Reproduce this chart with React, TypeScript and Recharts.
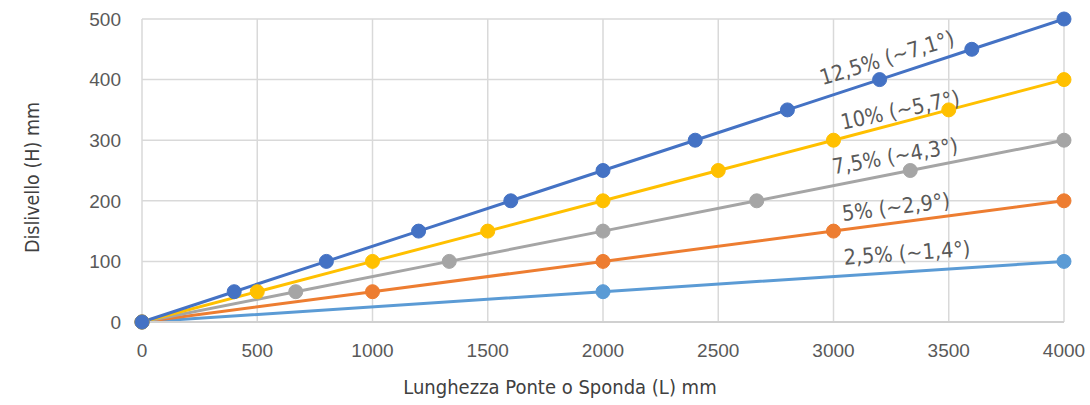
import React from 'react';
import { LineChart, Line, XAxis, YAxis, CartesianGrid, ReferenceDot, Label } from 'recharts';

// series: lunghezza (L) mm -> dislivello (H) mm
const s125 = [
  { x: 0, y: 0 }, { x: 400, y: 50 }, { x: 800, y: 100 }, { x: 1200, y: 150 },
  { x: 1600, y: 200 }, { x: 2000, y: 250 }, { x: 2400, y: 300 }, { x: 2800, y: 350 },
  { x: 3200, y: 400 }, { x: 3600, y: 450 }, { x: 4000, y: 500 },
];
const s10 = [
  { x: 0, y: 0 }, { x: 500, y: 50 }, { x: 1000, y: 100 }, { x: 1500, y: 150 },
  { x: 2000, y: 200 }, { x: 2500, y: 250 }, { x: 3000, y: 300 }, { x: 3500, y: 350 },
  { x: 4000, y: 400 },
];
const s75 = [
  { x: 0, y: 0 }, { x: 667, y: 50 }, { x: 1333, y: 100 }, { x: 2000, y: 150 },
  { x: 2667, y: 200 }, { x: 3333, y: 250 }, { x: 4000, y: 300 },
];
const s5 = [
  { x: 0, y: 0 }, { x: 1000, y: 50 }, { x: 2000, y: 100 }, { x: 3000, y: 150 }, { x: 4000, y: 200 },
];
const s25 = [
  { x: 0, y: 0 }, { x: 2000, y: 50 }, { x: 4000, y: 100 },
];

const xTicks = [0, 500, 1000, 1500, 2000, 2500, 3000, 3500, 4000];
const yTicks = [0, 100, 200, 300, 400, 500];

// labels placed along each line (data coords + tilt)
const notes = [
  { text: '12,5% (~7,1°)', x: 3232, y: 436, angle: 17 },
  { text: '10% (~5,7°)', x: 3289, y: 350, angle: 12 },
  { text: '7,5% (~4,3°)', x: 3267, y: 274, angle: 10 },
  { text: '5% (~2,9°)', x: 3271, y: 190, angle: 7 },
  { text: '2,5% (~1,4°)', x: 3319, y: 114, angle: 4 },
];

const narrow = "'Liberation Sans Narrow', 'DejaVu Sans Condensed', sans-serif";
const tickStyle = { fill: '#595959', fontSize: 19, fontFamily: "'Liberation Sans', Arial, sans-serif" };

const series = [
  { data: s25, color: '#5B9BD5' },
  { data: s5, color: '#ED7D31' },
  { data: s75, color: '#A5A5A5' },
  { data: s10, color: '#FFC000' },
  { data: s125, color: '#4472C4' },
];

export default function App() {
  return (
    <div style={{ position: 'absolute', left: 0, top: 0 }}>
      <LineChart width={1090} height={405} margin={{ top: 19, right: 26, left: 0, bottom: 0 }}>
        <CartesianGrid stroke="#d9d9d9" strokeWidth={1.5} />
        <XAxis
          dataKey="x"
          type="number"
          domain={[0, 4000]}
          ticks={xTicks}
          height={83}
          tickSize={0}
          tickMargin={22}
          tick={tickStyle}
          axisLine={{ stroke: '#d0d0d0', strokeWidth: 2 }}
          tickLine={false}
        >
          <Label
            content={({ viewBox }: any) => (
              <text
                x={viewBox.x + viewBox.width / 2 - 43}
                y={viewBox.y + 65}
                textAnchor="middle"
                dominantBaseline="central"
                fontSize={20}
                fontFamily={narrow}
                fill="#404040"
              >
                Lunghezza Ponte o Sponda (L) mm
              </text>
            )}
          />
        </XAxis>
        <YAxis
          type="number"
          domain={[0, 500]}
          ticks={yTicks}
          width={142}
          tickSize={0}
          tickMargin={21}
          tick={tickStyle}
          axisLine={false}
          tickLine={false}
        >
          <Label
            content={({ viewBox }: any) => {
              const cx = viewBox.x + 32;
              const cy = viewBox.y + viewBox.height / 2 + 7;
              return (
                <text
                  x={cx}
                  y={cy}
                  transform={`rotate(-90 ${cx} ${cy})`}
                  textAnchor="middle"
                  dominantBaseline="central"
                  fontSize={19.5}
                  fontFamily={narrow}
                  fill="#404040"
                >
                  Dislivello (H) mm
                </text>
              );
            }}
          />
        </YAxis>
        {series.map((s, i) => (
          <Line
            key={i}
            data={s.data}
            dataKey="y"
            type="linear"
            stroke={s.color}
            strokeWidth={3}
            dot={{ r: 7, fill: s.color, stroke: s.color, strokeWidth: 1 }}
            activeDot={false}
            isAnimationActive={false}
          />
        ))}
        {notes.map((n, i) => (
          <ReferenceDot
            key={'n' + i}
            x={n.x}
            y={n.y}
            r={0}
            stroke="none"
            fill="none"
            label={{
              content: ({ viewBox }: any) => {
                const cx = viewBox.x + (viewBox.width || 0) / 2;
                const cy = viewBox.y + (viewBox.height || 0) / 2;
                return (
                  <text
                    x={cx}
                    y={cy}
                    transform={`rotate(${-n.angle} ${cx} ${cy})`}
                    textAnchor="middle"
                    dominantBaseline="central"
                    fontSize={21.5}
                    fontFamily={narrow}
                    fill="#595959"
                  >
                    {n.text}
                  </text>
                );
              },
            }}
          />
        ))}
      </LineChart>
    </div>
  );
}
